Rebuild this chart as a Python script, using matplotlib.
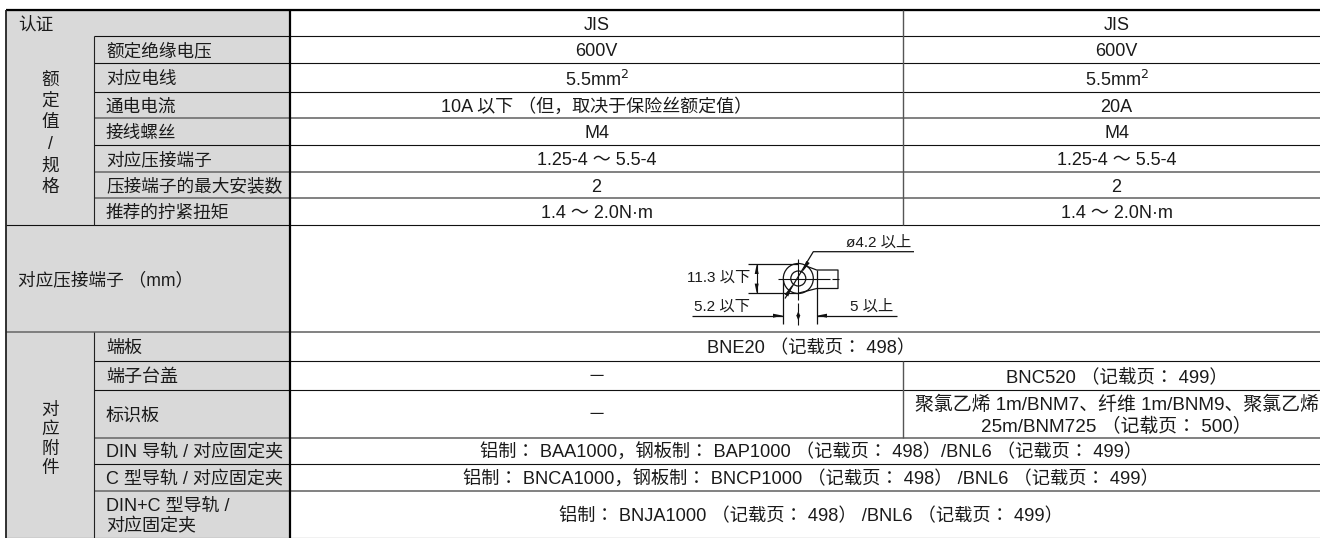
import matplotlib

matplotlib.use("Agg")
import matplotlib.pyplot as plt
from matplotlib.patches import Circle, Polygon, Rectangle

plt.rcParams["font.family"] = ["Liberation Sans", "Noto Sans CJK JP"]

W, H = 1320, 538
FS = 13
LABEL_FS = 12.7
DIM_FS = 11
GREY = "#d9d9d9"

# 行の境界 (px)
row_y = [10, 36, 63, 92, 118, 145, 172, 198, 225, 332, 361, 390, 438, 464, 491, 538]
# 各線の描き方: 0 = 細い黒, 1 = 太いグレー
row_line = [0, 0, 0, 0, 1, 0, 1, 1, 0, 1, 0, 0, 1, 0, 1, 0]
col_x = [6, 94, 290, 903, 1330]

group_a = ["额", "定", "值", "/", "规", "格"]
group_b = ["对", "应", "附", "件"]
left_single = ["认证", "对应压接端子 （mm）"]
sub_labels = [
    "额定绝缘电压", "对应电线", "通电电流", "接线螺丝",
    "对应压接端子", "压接端子的最大安装数", "推荐的拧紧扭矩",
]
acc_labels = [
    "端板", "端子台盖", "标识板", "DIN 导轨 / 对应固定夹",
    "C 型导轨 / 对应固定夹", "DIN+C 型导轨 /\n对应固定夹",
]
col_a = [
    "JIS", "600V", "5.5mm$^2$", "10A 以下 （但，取决于保险丝额定值）", "M4",
    "1.25-4 ～ 5.5-4", "2", "1.4 ～ 2.0N·m",
]
col_b = ["JIS", "600V", "5.5mm$^2$", "20A", "M4", "1.25-4 ～ 5.5-4", "2", "1.4 ～ 2.0N·m"]
acc_a = ["－", "－"]
acc_b = [
    "BNC520 （记载页： 499）",
    "聚氯乙烯 1m/BNM7、纤维 1m/BNM9、聚氯乙烯\n25m/BNM725 （记载页： 500）",
]
merged_plate = "BNE20 （记载页： 498）"
merged_din = "铝制： BAA1000，钢板制： BAP1000 （记载页： 498）/BNL6 （记载页： 499）"
merged_c = "铝制： BNCA1000，钢板制： BNCP1000 （记载页： 498） /BNL6 （记载页： 499）"
merged_dinc = "铝制： BNJA1000 （记载页： 498） /BNL6 （记载页： 499）"
dim_labels = ["ø4.2 以上", "11.3 以下", "5.2 以下", "5 以上"]

fig = plt.figure(figsize=(13.2, 5.38), dpi=100)
ax = fig.add_axes([0, 0, 1, 1])
ax.set_xlim(0, W)
ax.set_ylim(H, 0)
ax.axis("off")


def put(x, y, s, ha="center", size=FS):
    ax.text(x, y + 2, s, ha=ha, va="center", fontsize=size, color="#1a1a1a", linespacing=1.2)


def mid(i):
    return (row_y[i] + row_y[i + 1]) / 2


def line(xs, ys, lw=0.8, color="#111111"):
    ax.plot(xs, ys, color=color, lw=lw, solid_capstyle="butt")


def head(tip, tail, w=2.0):
    # 寸法線の矢印 (塗りつぶし三角形)
    dx, dy = tail[0] - tip[0], tail[1] - tip[1]
    n = (dx * dx + dy * dy) ** 0.5
    px, py = -dy / n * w, dx / n * w
    ax.add_patch(Polygon([tip, (tail[0] + px, tail[1] + py), (tail[0] - px, tail[1] - py)],
                         fc="#111111", ec="none"))


# グレーの見出し部分
ax.add_patch(Rectangle((col_x[0], row_y[0]), col_x[2] - col_x[0], H - row_y[0], fc=GREY, ec="none"))

# 見出し
put(18, mid(0), left_single[0], ha="left", size=LABEL_FS)
put(18, mid(8), left_single[1], ha="left", size=LABEL_FS)
for i, s in enumerate(group_a):
    put(50, 78 + i * 21.5, s, size=LABEL_FS)
for i, s in enumerate(group_b):
    put(50, 408 + i * 19.5, s, size=LABEL_FS)
for i, s in enumerate(sub_labels):
    put(106, mid(i + 1), s, ha="left", size=LABEL_FS)
for i, s in enumerate(acc_labels):
    put(106, mid(i + 9), s, ha="left")

# 本体
center_a = (col_x[2] + col_x[3]) / 2
center_b = (col_x[3] + col_x[4]) / 2
center_all = (col_x[2] + col_x[4]) / 2 + 1
for i, (a, b) in enumerate(zip(col_a, col_b)):
    put(center_a, mid(i), a)
    put(center_b, mid(i), b)
put(center_all, mid(9), merged_plate, size=13.15)
put(center_a, mid(10), acc_a[0])
put(center_a, mid(11), acc_a[1])
put(center_b, mid(10), acc_b[0], size=13.3)
put(center_b, mid(11), acc_b[1], size=13.6)
put(center_all, mid(12), merged_din, size=13.15)
put(center_all, mid(13), merged_c, size=13.15)
put(center_all, mid(14), merged_dinc, size=13.15)

# 罫線
merged_left = {0, 8, 9, 15}  # 左の2列を貫く線
for i, (y, kind) in enumerate(zip(row_y, row_line)):
    x0 = col_x[0] if i in merged_left else col_x[1]
    line([x0, W], [y, y], lw=1.3 if kind else 0.8, color="#777777" if kind else "#111111")
line([col_x[0], W], [row_y[0], row_y[0]], lw=1.6, color="black")
line([col_x[0]] * 2, [row_y[0], H], lw=1.3, color="#222222")
line([col_x[2]] * 2, [row_y[0], H], lw=1.6, color="black")
for y0, y1 in [(row_y[1], row_y[8]), (row_y[9], H)]:
    line([col_x[1]] * 2, [y0, y1], color="#222222")
for y0, y1 in [(row_y[0], row_y[8]), (row_y[10], row_y[12])]:
    line([col_x[3]] * 2, [y0, y1], lw=1.0, color="#555555")

# 圧着端子の寸法図
cx, cy = 798.3, 278.5
ax.add_patch(Circle((cx, cy), 15, fc="none", ec="#111111", lw=0.9))
ax.add_patch(Circle((cx, cy), 7.5, fc="none", ec="#111111", lw=0.9))
line([806, 816.7, 838, 838, 816.7, 799], [266, 270, 270, 288.5, 288.5, 293], lw=0.9)
line([816.7, 816.7], [270, 324], lw=0.9)
line([783.3, 783.3], [280, 324], lw=0.9)
line([778, 830], [cy, cy])
line([832, 839], [cy, cy])
line([cx, cx], [259, 300])
line([cx, cx], [303, 312])
line([cx, cx], [315, 325])
# φ の引出線
line([914, 813.3, 785], [251.7, 251.7, 298.5], lw=0.9)
head((801.5, 273), (808, 262), 2.0)
head((793, 284), (786.5, 295.5), 2.0)
# 高さ寸法
line([748, 798], [264.3, 264.3], lw=0.9)
line([748, 798], [293.3, 293.3], lw=0.9)
line([756.7, 756.7], [264.3, 293.3])
head((756.7, 264.3), (756.7, 274))
head((756.7, 293.3), (756.7, 283.6))
# 幅寸法
line([692, 783.3], [315.7, 315.7], lw=0.9)
line([816.7, 897], [315.7, 315.7], lw=0.9)
head((783.3, 315.7), (773, 315.7))
head((816.7, 315.7), (827, 315.7))
head((cx, 311), (cx, 316), 2.0)
head((cx, 320.5), (cx, 315.5), 2.0)
put(846, 241, dim_labels[0], ha="left", size=DIM_FS)
put(750, 276, dim_labels[1], ha="right", size=DIM_FS)
put(750, 305, dim_labels[2], ha="right", size=DIM_FS)
put(850, 305, dim_labels[3], ha="left", size=DIM_FS)

fig.savefig("out.png", dpi=100)
